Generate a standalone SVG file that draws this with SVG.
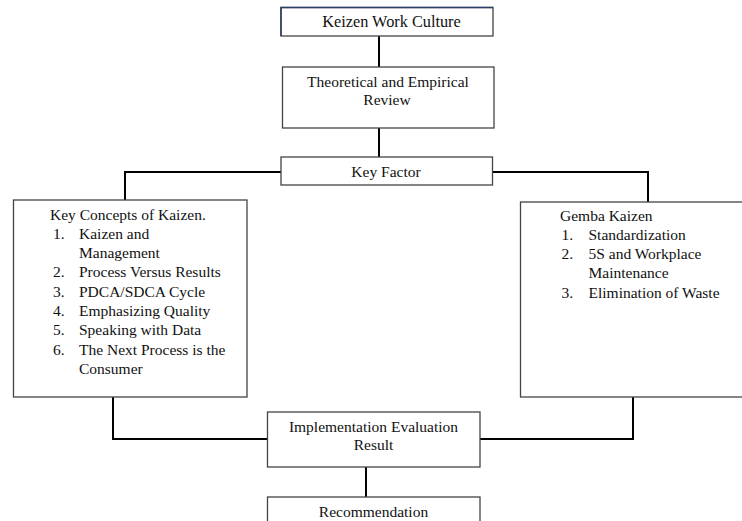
<svg xmlns="http://www.w3.org/2000/svg" width="742" height="521" viewBox="0 0 742 521" font-family="'Liberation Serif', 'Times New Roman', serif">
<style>
.box{fill:#fff;stroke:#444;stroke-width:1.3}
.t{font-family:'Liberation Serif','Times New Roman',serif;font-size:15.5px;fill:#111}
.c{text-anchor:middle}
.con{fill:none;stroke:#000;stroke-width:2}
</style>
<rect width="742" height="521" fill="#fff"/>
<g id="connectors">
<line class="con" x1="379" y1="36" x2="379" y2="67"/>
<line class="con" x1="379" y1="128" x2="379" y2="157"/>
<polyline class="con" points="281,172 125,172 125,200"/>
<polyline class="con" points="492,172 648,172 648,202"/>
<polyline class="con" points="113,397 113,439 267,439"/>
<polyline class="con" points="633,397 633,439 480,439"/>
<line class="con" x1="366" y1="467" x2="366" y2="497"/>
</g>
<g id="keizen">
<rect class="box" x="281" y="7.5" width="212" height="28.5"/>
<polyline points="281,36 281,7.5 493,7.5" fill="none" stroke="#2a3f66" stroke-width="1.5"/>
<text class="t c" x="391.5" y="27" style="font-size:16.3px">Keizen Work Culture</text>
</g>
<g id="review">
<rect class="box" x="282.5" y="67" width="211.5" height="61"/>
<text class="t c" x="388" y="87">Theoretical and Empirical</text>
<text class="t c" x="387" y="105">Review</text>
</g>
<g id="keyfactor">
<rect class="box" x="281" y="157" width="211.5" height="28"/>
<text class="t c" x="386" y="177">Key Factor</text>
</g>
<g id="concepts">
<rect class="box" x="13.5" y="200" width="233.5" height="197"/>
<text class="t" x="50" y="220">Key Concepts of Kaizen.</text>
<text class="t" x="53" y="239">1.</text><text class="t" x="79" y="239">Kaizen and</text>
<text class="t" x="79" y="258">Management</text>
<text class="t" x="53" y="277">2.</text><text class="t" x="79" y="277">Process Versus Results</text>
<text class="t" x="53" y="296.5">3.</text><text class="t" x="79" y="296.5">PDCA/SDCA Cycle</text>
<text class="t" x="53" y="316">4.</text><text class="t" x="79" y="316">Emphasizing Quality</text>
<text class="t" x="53" y="335">5.</text><text class="t" x="79" y="335">Speaking with Data</text>
<text class="t" x="53" y="355">6.</text><text class="t" x="79" y="355">The Next Process is the</text>
<text class="t" x="79" y="374">Consumer</text>
</g>
<g id="gemba">
<rect class="box" x="520.5" y="202" width="230" height="195"/>
<text class="t" x="560" y="221">Gemba Kaizen</text>
<text class="t" x="561.5" y="240">1.</text><text class="t" x="588.5" y="240">Standardization</text>
<text class="t" x="561.5" y="259">2.</text><text class="t" x="588.5" y="259">5S and Workplace</text>
<text class="t" x="588.5" y="278">Maintenance</text>
<text class="t" x="561.5" y="297.5">3.</text><text class="t" x="588.5" y="297.5">Elimination of Waste</text>
</g>
<g id="implementation">
<rect class="box" x="267.5" y="412" width="212.5" height="55"/>
<text class="t c" x="373.5" y="432">Implementation Evaluation</text>
<text class="t c" x="373.5" y="449.5">Result</text>
</g>
<g id="recommendation">
<rect class="box" x="267.5" y="497" width="212.5" height="40"/>
<text class="t c" x="373.5" y="517">Recommendation</text>
</g>
</svg>
